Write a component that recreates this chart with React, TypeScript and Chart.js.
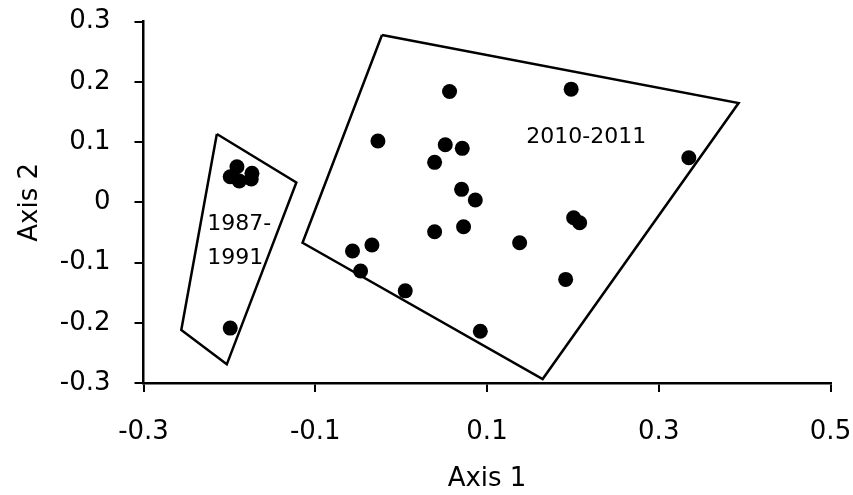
import React, { useEffect, useRef } from "react";
import { Chart, registerables } from "chart.js";

Chart.register(...registerables);

// Tick values for both ordination axes
const axis1Ticks = [-0.3, -0.1, 0.1, 0.3, 0.5];
const axis2Ticks = [-0.3, -0.2, -0.1, 0, 0.1, 0.2, 0.3];

// Site scores, 1987-1991 samples
const period1987X = [-0.1912, -0.199, -0.1885, -0.1737, -0.1745, -0.199];
const period1987Y = [0.0591, 0.0425, 0.0354, 0.0482, 0.0387, -0.2088];

// Site scores, 2010-2011 samples
const period2010X = [
  0.0564, 0.198, -0.027, 0.0514, 0.0712, 0.039, 0.0704, 0.0864, 0.039, 0.0727,
  0.2009, 0.2079, 0.138, -0.0566, -0.034, -0.0472, 0.0048, 0.0922, 0.1916, 0.335,
];
const period2010Y = [
  0.184, 0.188, 0.102, 0.0957, 0.0897, 0.0664, 0.0216, 0.0038, -0.0488, -0.0405,
  -0.0256, -0.0339, -0.0671, -0.0809, -0.0709, -0.114, -0.147, -0.214, -0.128, 0.074,
];

// Envelope polygons around each period
const hull1987X = [-0.2146, -0.122, -0.203, -0.256];
const hull1987Y = [0.1135, 0.033, -0.269, -0.212];
const hull2010X = [-0.0223, 0.393, 0.1648, -0.1148];
const hull2010Y = [0.278, 0.165, -0.2935, -0.0671];

// Period labels (left edge / vertical middle, in axis units)
const labelText = ["1987-", "1991", "2010-2011"];
const labelX = [-0.2258, -0.2258, 0.1458];
const labelY = [-0.036, -0.0934, 0.108];

const toPoints = (xs: number[], ys: number[]) => xs.map((x, i) => ({ x, y: ys[i] }));
const closed = (xs: number[], ys: number[]) => {
  const pts = toPoints(xs, ys);
  return [...pts, pts[0]];
};

const FONT = "'DejaVu Sans', sans-serif";

const fmt = (v: number) => {
  const r = Math.round(v * 10) / 10;
  return r === 0 ? "0" : r.toFixed(1);
};

const periodLabels = {
  id: "periodLabels",
  afterDatasetsDraw(chart: any) {
    const { ctx, scales } = chart;
    ctx.save();
    ctx.fillStyle = "#000";
    ctx.font = `22px ${FONT}`;
    ctx.textAlign = "left";
    ctx.textBaseline = "middle";
    labelText.forEach((t, i) => {
      ctx.fillText(t, scales.x.getPixelForValue(labelX[i]), scales.y.getPixelForValue(labelY[i]));
    });
    ctx.restore();
  },
};

export default function App() {
  const ref = useRef<HTMLCanvasElement | null>(null);

  useEffect(() => {
    if (!ref.current) return;
    Chart.defaults.font.family = FONT;
    Chart.defaults.color = "#000";

    const polygon = (xs: number[], ys: number[]) => ({
      data: closed(xs, ys),
      showLine: true,
      borderColor: "#000",
      borderWidth: 2.5,
      pointRadius: 0,
      fill: false,
      tension: 0,
    });
    const points = (xs: number[], ys: number[]) => ({
      data: toPoints(xs, ys),
      showLine: false,
      pointRadius: 7.5,
      pointBackgroundColor: "#000",
      pointBorderWidth: 0,
      backgroundColor: "#000",
      borderColor: "#000",
    });

    const axisGrid = {
      drawOnChartArea: false,
      drawTicks: true,
      tickLength: 9,
      color: "#000",
      lineWidth: 2,
    };

    const chart = new Chart(ref.current, {
      type: "scatter",
      data: {
        datasets: [
          polygon(hull1987X, hull1987Y),
          polygon(hull2010X, hull2010Y),
          points(period1987X, period1987Y),
          points(period2010X, period2010Y),
        ] as any,
      },
      options: {
        animation: false,
        responsive: false,
        layout: { padding: { top: 21.7, right: 22.5, left: 0, bottom: 0 } },
        plugins: {
          legend: { display: false },
          tooltip: { enabled: false },
        },
        scales: {
          x: {
            type: "linear",
            min: -0.3,
            max: 0.5,
            afterBuildTicks: (s: any) => {
              s.ticks = axis1Ticks.map((value) => ({ value }));
            },
            afterFit: (s: any) => {
              s.height = 112;
              s.paddingLeft = 0;
              s.paddingRight = 0;
            },
            ticks: {
              font: { size: 26 },
              color: "#000",
              padding: 25,
              maxRotation: 0,
              callback: (v: any) => fmt(Number(v)),
            },
            grid: axisGrid,
            border: { display: true, color: "#000", width: 2.5 },
            title: {
              display: true,
              text: "Axis 1",
              font: { size: 26 },
              color: "#000",
              padding: { top: 25, bottom: 0 },
            },
          },
          y: {
            type: "linear",
            min: -0.3,
            max: 0.3,
            afterBuildTicks: (s: any) => {
              s.ticks = axis2Ticks.map((value) => ({ value }));
            },
            afterFit: (s: any) => {
              s.width = 143.5;
              s.paddingTop = 0;
              s.paddingBottom = 0;
            },
            ticks: {
              font: { size: 26 },
              color: "#000",
              padding: 24,
              callback: (v: any) => fmt(Number(v)),
            },
            grid: axisGrid,
            border: { display: true, color: "#000", width: 2.5 },
            title: {
              display: true,
              text: "Axis 2",
              font: { size: 26 },
              color: "#000",
              padding: { top: 14.4, bottom: 0 },
            },
          },
        },
      } as any,
      plugins: [periodLabels],
    });
    return () => chart.destroy();
  }, []);

  return (
    <div
      style={{
        position: "fixed",
        left: 0,
        top: 0,
        width: 853,
        height: 495,
        background: "#fff",
      }}
    >
      <canvas ref={ref} width={853} height={495} style={{ display: "block" }} />
    </div>
  );
}
